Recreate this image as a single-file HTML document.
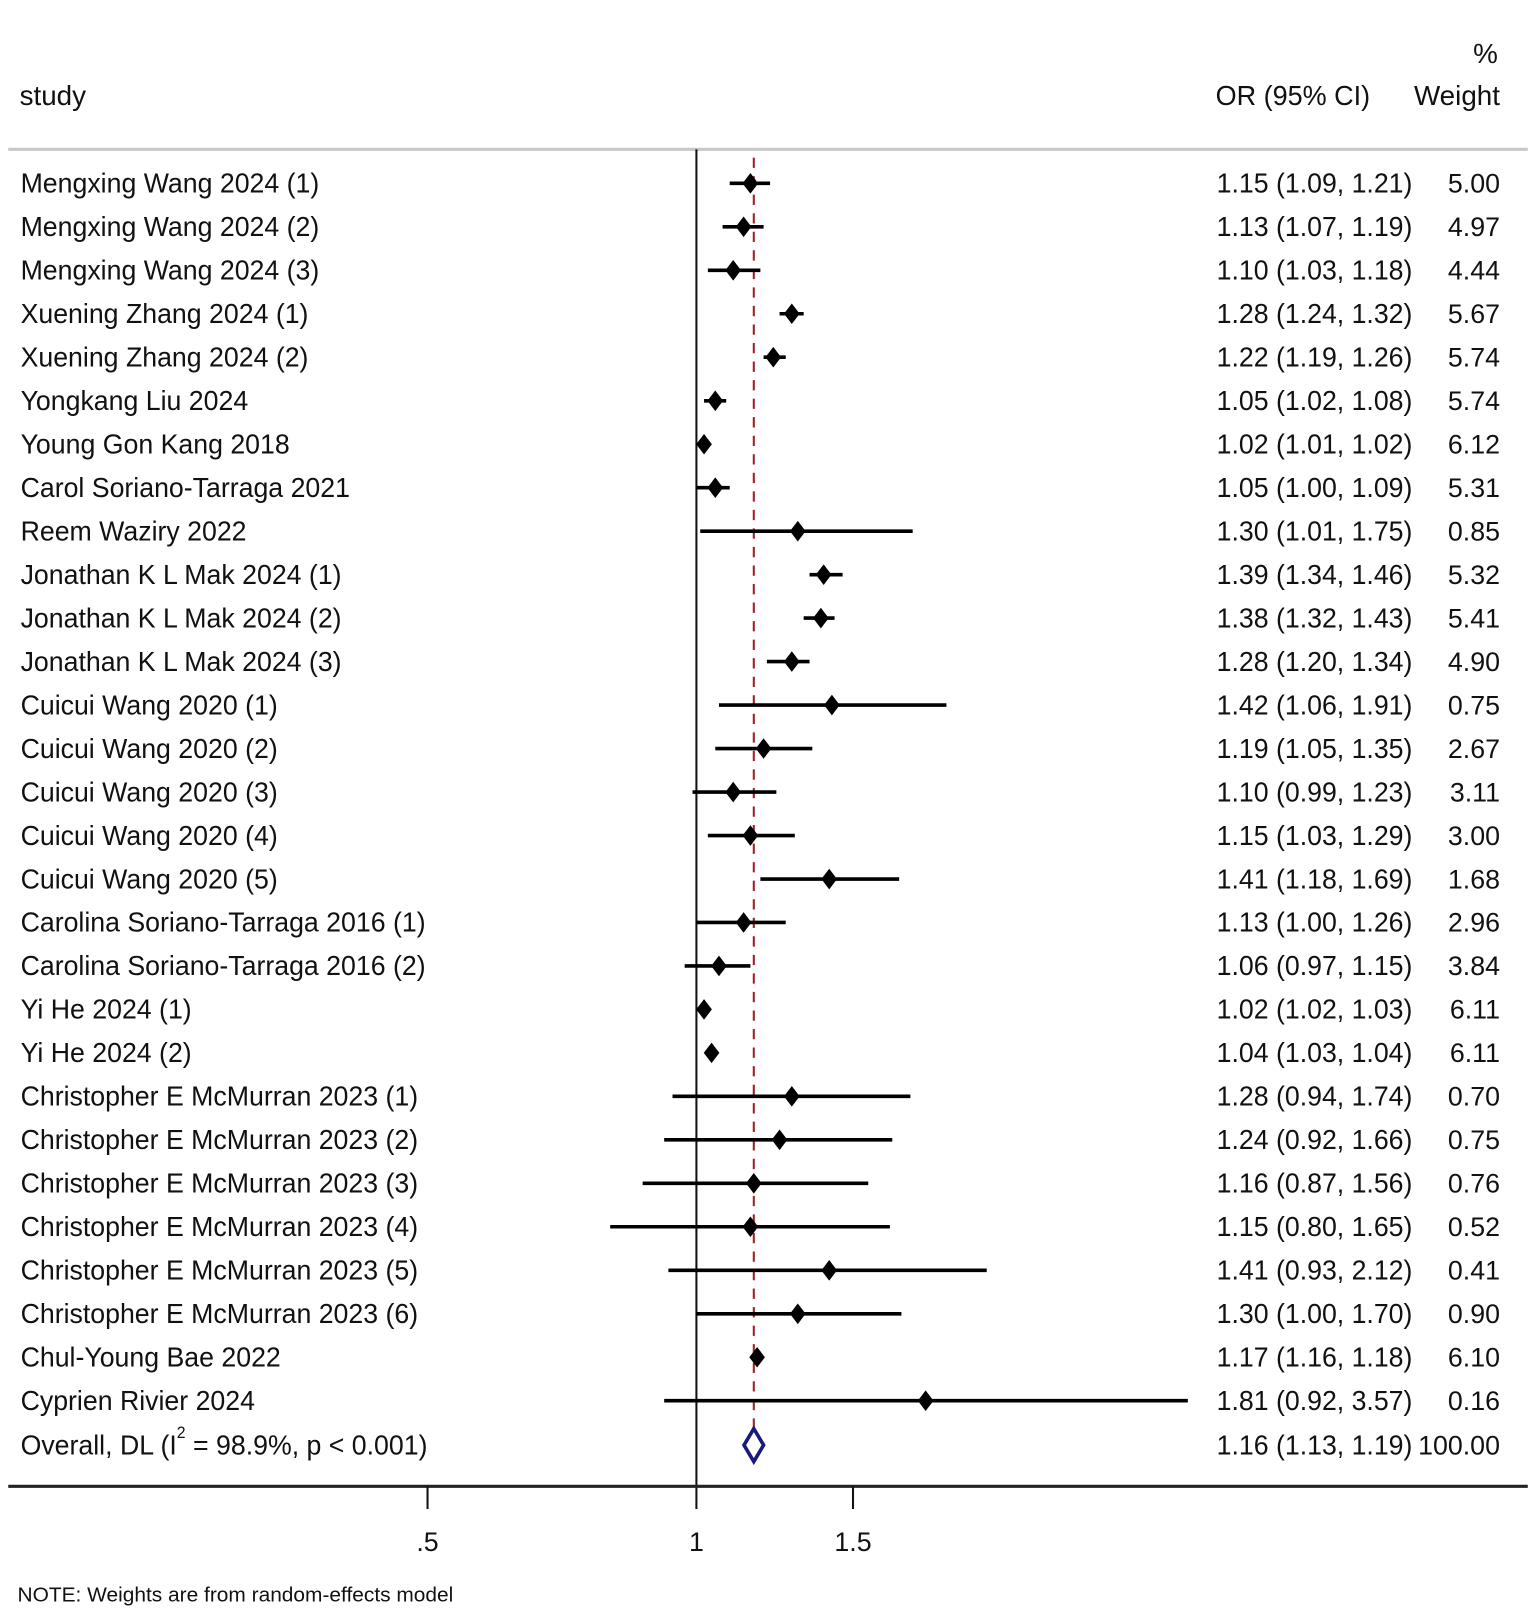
<!DOCTYPE html>
<html><head><meta charset="utf-8"><style>
html,body{margin:0;padding:0;background:#fff;}
svg{display:block;}
text{font-family:"Liberation Sans",Arial,sans-serif;fill:#111;}
</style></head><body>
<svg width="1535" height="1613" viewBox="0 0 1490 1566" preserveAspectRatio="none" xmlns="http://www.w3.org/2000/svg">
<defs><polygon id="d" points="0,-10 7.6,0 0,10 -7.6,0" fill="#000"/></defs>
<rect width="1490" height="1566" fill="#fff"/>
<g font-size="27">
<text x="19" y="102">study</text>
<text x="1180" y="102" textLength="150" lengthAdjust="spacingAndGlyphs">OR (95% CI)</text>
<text x="1456" y="102" text-anchor="end">Weight</text>
<text x="1454" y="61" text-anchor="end">%</text>
</g>
<line x1="8" y1="145" x2="1483" y2="145" stroke="#c8c8c8" stroke-width="3"/>
<line x1="676" y1="145" x2="676" y2="1465" stroke="#111" stroke-width="2"/>
<line x1="8" y1="1443" x2="1483" y2="1443" stroke="#222" stroke-width="3"/>
<line x1="415" y1="1443" x2="415" y2="1465" stroke="#111" stroke-width="2"/>
<line x1="828" y1="1443" x2="828" y2="1465" stroke="#111" stroke-width="2"/>
<g font-size="26" text-anchor="middle">
<text x="415" y="1506">.5</text><text x="676" y="1506">1</text><text x="828" y="1506">1.5</text>
</g>
<text x="17" y="1555" font-size="20" textLength="423" lengthAdjust="spacingAndGlyphs">NOTE: Weights are from random-effects model</text>
<line x1="731.7" y1="153" x2="731.7" y2="1420" stroke="#a0202a" stroke-width="2" stroke-dasharray="10,8"/>
<g stroke="#000" stroke-width="3.5">
<line x1="708.3" y1="178" x2="747.5" y2="178"/>
<line x1="701.4" y1="220.2" x2="741.2" y2="220.2"/>
<line x1="687.1" y1="262.4" x2="738.1" y2="262.4"/>
<line x1="756.7" y1="304.6" x2="780.1" y2="304.6"/>
<line x1="741.2" y1="346.8" x2="762.7" y2="346.8"/>
<line x1="683.4" y1="389.1" x2="704.9" y2="389.1"/>
<line x1="679.7" y1="431.3" x2="683.4" y2="431.3"/>
<line x1="676" y1="473.5" x2="708.3" y2="473.5"/>
<line x1="679.7" y1="515.7" x2="885.9" y2="515.7"/>
<line x1="785.8" y1="557.9" x2="817.9" y2="557.9"/>
<line x1="780.1" y1="600.1" x2="810.1" y2="600.1"/>
<line x1="744.4" y1="642.3" x2="785.8" y2="642.3"/>
<line x1="697.9" y1="684.5" x2="918.7" y2="684.5"/>
<line x1="694.3" y1="726.7" x2="788.5" y2="726.7"/>
<line x1="672.2" y1="769" x2="753.6" y2="769"/>
<line x1="687.1" y1="811.2" x2="771.5" y2="811.2"/>
<line x1="738.1" y1="853.4" x2="872.8" y2="853.4"/>
<line x1="676" y1="895.6" x2="762.7" y2="895.6"/>
<line x1="664.6" y1="937.8" x2="728.4" y2="937.8"/>
<line x1="683.4" y1="980" x2="687.1" y2="980"/>
<line x1="687.1" y1="1022.2" x2="690.7" y2="1022.2"/>
<line x1="652.8" y1="1064.4" x2="883.7" y2="1064.4"/>
<line x1="644.7" y1="1106.6" x2="866.1" y2="1106.6"/>
<line x1="623.8" y1="1148.8" x2="842.8" y2="1148.8"/>
<line x1="592.3" y1="1191" x2="863.8" y2="1191"/>
<line x1="648.8" y1="1233.3" x2="957.8" y2="1233.3"/>
<line x1="676" y1="1275.5" x2="875" y2="1275.5"/>
<line x1="731.7" y1="1317.7" x2="738.1" y2="1317.7"/>
<line x1="644.7" y1="1359.9" x2="1153" y2="1359.9"/>
</g>
<use href="#d" x="728.4" y="178"/>
<use href="#d" x="721.8" y="220.2"/>
<use href="#d" x="711.7" y="262.4"/>
<use href="#d" x="768.6" y="304.6"/>
<use href="#d" x="750.6" y="346.8"/>
<use href="#d" x="694.3" y="389.1"/>
<use href="#d" x="683.4" y="431.3"/>
<use href="#d" x="694.3" y="473.5"/>
<use href="#d" x="774.4" y="515.7"/>
<use href="#d" x="799.5" y="557.9"/>
<use href="#d" x="796.8" y="600.1"/>
<use href="#d" x="768.6" y="642.3"/>
<use href="#d" x="807.5" y="684.5"/>
<use href="#d" x="741.2" y="726.7"/>
<use href="#d" x="711.7" y="769"/>
<use href="#d" x="728.4" y="811.2"/>
<use href="#d" x="804.9" y="853.4"/>
<use href="#d" x="721.8" y="895.6"/>
<use href="#d" x="697.9" y="937.8"/>
<use href="#d" x="683.4" y="980"/>
<use href="#d" x="690.7" y="1022.2"/>
<use href="#d" x="768.6" y="1064.4"/>
<use href="#d" x="756.7" y="1106.6"/>
<use href="#d" x="731.7" y="1148.8"/>
<use href="#d" x="728.4" y="1191"/>
<use href="#d" x="804.9" y="1233.3"/>
<use href="#d" x="774.4" y="1275.5"/>
<use href="#d" x="734.9" y="1317.7"/>
<use href="#d" x="898.5" y="1359.9"/>
<polygon points="731.7,1387 741.2,1403 731.7,1419 722.2,1403" fill="#fff" stroke="#1a1a7a" stroke-width="3.5"/>
<g font-size="27" transform="scale(0.96,1)">
<text x="20.8" y="187">Mengxing Wang 2024 (1)</text>
<text x="20.8" y="229.2">Mengxing Wang 2024 (2)</text>
<text x="20.8" y="271.4">Mengxing Wang 2024 (3)</text>
<text x="20.8" y="313.6">Xuening Zhang 2024 (1)</text>
<text x="20.8" y="355.8">Xuening Zhang 2024 (2)</text>
<text x="20.8" y="398.1">Yongkang Liu 2024</text>
<text x="20.8" y="440.3">Young Gon Kang 2018</text>
<text x="20.8" y="482.5">Carol Soriano-Tarraga 2021</text>
<text x="20.8" y="524.7">Reem Waziry 2022</text>
<text x="20.8" y="566.9">Jonathan K L Mak 2024 (1)</text>
<text x="20.8" y="609.1">Jonathan K L Mak 2024 (2)</text>
<text x="20.8" y="651.3">Jonathan K L Mak 2024 (3)</text>
<text x="20.8" y="693.5">Cuicui Wang 2020 (1)</text>
<text x="20.8" y="735.7">Cuicui Wang 2020 (2)</text>
<text x="20.8" y="778">Cuicui Wang 2020 (3)</text>
<text x="20.8" y="820.2">Cuicui Wang 2020 (4)</text>
<text x="20.8" y="862.4">Cuicui Wang 2020 (5)</text>
<text x="20.8" y="904.6">Carolina Soriano-Tarraga 2016 (1)</text>
<text x="20.8" y="946.8">Carolina Soriano-Tarraga 2016 (2)</text>
<text x="20.8" y="989">Yi He 2024 (1)</text>
<text x="20.8" y="1031.2">Yi He 2024 (2)</text>
<text x="20.8" y="1073.4">Christopher E McMurran 2023 (1)</text>
<text x="20.8" y="1115.6">Christopher E McMurran 2023 (2)</text>
<text x="20.8" y="1157.8">Christopher E McMurran 2023 (3)</text>
<text x="20.8" y="1200">Christopher E McMurran 2023 (4)</text>
<text x="20.8" y="1242.3">Christopher E McMurran 2023 (5)</text>
<text x="20.8" y="1284.5">Christopher E McMurran 2023 (6)</text>
<text x="20.8" y="1326.7">Chul-Young Bae 2022</text>
<text x="20.8" y="1368.9">Cyprien Rivier 2024</text>
<text x="20.8" y="1412">Overall, DL (I<tspan font-size="16" dy="-16">2</tspan><tspan dy="16"> = 98.9%, p &lt; 0.001)</tspan></text>
</g>
<g font-size="27">
<text x="1181" y="187" textLength="190" lengthAdjust="spacingAndGlyphs">1.15 (1.09, 1.21)</text>
<text x="1181" y="229.2" textLength="190" lengthAdjust="spacingAndGlyphs">1.13 (1.07, 1.19)</text>
<text x="1181" y="271.4" textLength="190" lengthAdjust="spacingAndGlyphs">1.10 (1.03, 1.18)</text>
<text x="1181" y="313.6" textLength="190" lengthAdjust="spacingAndGlyphs">1.28 (1.24, 1.32)</text>
<text x="1181" y="355.8" textLength="190" lengthAdjust="spacingAndGlyphs">1.22 (1.19, 1.26)</text>
<text x="1181" y="398.1" textLength="190" lengthAdjust="spacingAndGlyphs">1.05 (1.02, 1.08)</text>
<text x="1181" y="440.3" textLength="190" lengthAdjust="spacingAndGlyphs">1.02 (1.01, 1.02)</text>
<text x="1181" y="482.5" textLength="190" lengthAdjust="spacingAndGlyphs">1.05 (1.00, 1.09)</text>
<text x="1181" y="524.7" textLength="190" lengthAdjust="spacingAndGlyphs">1.30 (1.01, 1.75)</text>
<text x="1181" y="566.9" textLength="190" lengthAdjust="spacingAndGlyphs">1.39 (1.34, 1.46)</text>
<text x="1181" y="609.1" textLength="190" lengthAdjust="spacingAndGlyphs">1.38 (1.32, 1.43)</text>
<text x="1181" y="651.3" textLength="190" lengthAdjust="spacingAndGlyphs">1.28 (1.20, 1.34)</text>
<text x="1181" y="693.5" textLength="190" lengthAdjust="spacingAndGlyphs">1.42 (1.06, 1.91)</text>
<text x="1181" y="735.7" textLength="190" lengthAdjust="spacingAndGlyphs">1.19 (1.05, 1.35)</text>
<text x="1181" y="778" textLength="190" lengthAdjust="spacingAndGlyphs">1.10 (0.99, 1.23)</text>
<text x="1181" y="820.2" textLength="190" lengthAdjust="spacingAndGlyphs">1.15 (1.03, 1.29)</text>
<text x="1181" y="862.4" textLength="190" lengthAdjust="spacingAndGlyphs">1.41 (1.18, 1.69)</text>
<text x="1181" y="904.6" textLength="190" lengthAdjust="spacingAndGlyphs">1.13 (1.00, 1.26)</text>
<text x="1181" y="946.8" textLength="190" lengthAdjust="spacingAndGlyphs">1.06 (0.97, 1.15)</text>
<text x="1181" y="989" textLength="190" lengthAdjust="spacingAndGlyphs">1.02 (1.02, 1.03)</text>
<text x="1181" y="1031.2" textLength="190" lengthAdjust="spacingAndGlyphs">1.04 (1.03, 1.04)</text>
<text x="1181" y="1073.4" textLength="190" lengthAdjust="spacingAndGlyphs">1.28 (0.94, 1.74)</text>
<text x="1181" y="1115.6" textLength="190" lengthAdjust="spacingAndGlyphs">1.24 (0.92, 1.66)</text>
<text x="1181" y="1157.8" textLength="190" lengthAdjust="spacingAndGlyphs">1.16 (0.87, 1.56)</text>
<text x="1181" y="1200" textLength="190" lengthAdjust="spacingAndGlyphs">1.15 (0.80, 1.65)</text>
<text x="1181" y="1242.3" textLength="190" lengthAdjust="spacingAndGlyphs">1.41 (0.93, 2.12)</text>
<text x="1181" y="1284.5" textLength="190" lengthAdjust="spacingAndGlyphs">1.30 (1.00, 1.70)</text>
<text x="1181" y="1326.7" textLength="190" lengthAdjust="spacingAndGlyphs">1.17 (1.16, 1.18)</text>
<text x="1181" y="1368.9" textLength="190" lengthAdjust="spacingAndGlyphs">1.81 (0.92, 3.57)</text>
<text x="1181" y="1412" textLength="190" lengthAdjust="spacingAndGlyphs">1.16 (1.13, 1.19)</text>
</g>
<g font-size="26" text-anchor="end">
<text x="1456" y="187">5.00</text>
<text x="1456" y="229.2">4.97</text>
<text x="1456" y="271.4">4.44</text>
<text x="1456" y="313.6">5.67</text>
<text x="1456" y="355.8">5.74</text>
<text x="1456" y="398.1">5.74</text>
<text x="1456" y="440.3">6.12</text>
<text x="1456" y="482.5">5.31</text>
<text x="1456" y="524.7">0.85</text>
<text x="1456" y="566.9">5.32</text>
<text x="1456" y="609.1">5.41</text>
<text x="1456" y="651.3">4.90</text>
<text x="1456" y="693.5">0.75</text>
<text x="1456" y="735.7">2.67</text>
<text x="1456" y="778">3.11</text>
<text x="1456" y="820.2">3.00</text>
<text x="1456" y="862.4">1.68</text>
<text x="1456" y="904.6">2.96</text>
<text x="1456" y="946.8">3.84</text>
<text x="1456" y="989">6.11</text>
<text x="1456" y="1031.2">6.11</text>
<text x="1456" y="1073.4">0.70</text>
<text x="1456" y="1115.6">0.75</text>
<text x="1456" y="1157.8">0.76</text>
<text x="1456" y="1200">0.52</text>
<text x="1456" y="1242.3">0.41</text>
<text x="1456" y="1284.5">0.90</text>
<text x="1456" y="1326.7">6.10</text>
<text x="1456" y="1368.9">0.16</text>
<text x="1456" y="1412">100.00</text>
</g>
</svg>
</body></html>
